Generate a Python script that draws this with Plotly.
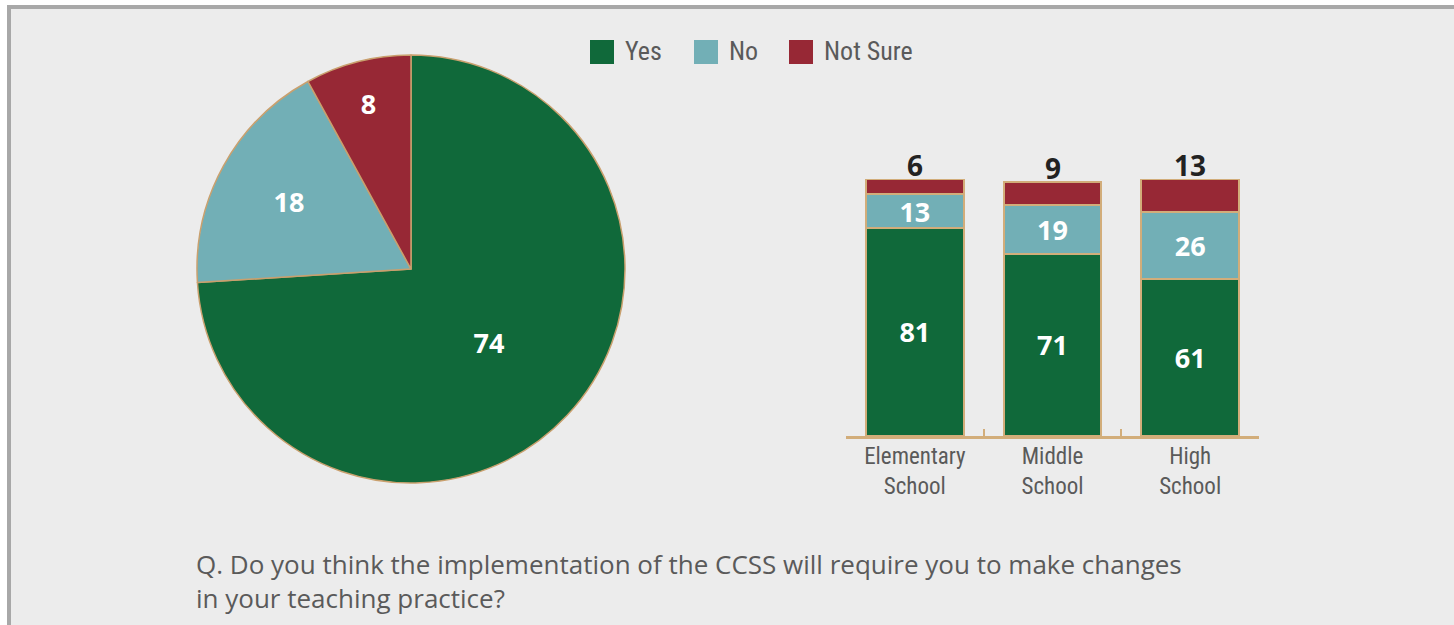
import plotly.graph_objects as go

# ---- data ----
series_names = ["Yes", "No", "Not Sure"]
series_colors = ["#10693a", "#72afb6", "#972835"]
overall_values = [74, 18, 8]

school_levels = ["Elementary<br>School", "Middle<br>School", "High<br>School"]
yes_values = [81, 71, 61]
no_values = [13, 19, 26]
not_sure_values = [6, 9, 13]

question = ("Q. Do you think the implementation of the CCSS will require you to make changes"
            "<br>in your teaching practice?")

W, H = 1454, 625
BG = "#ececec"
TAN = "#d2ad7a"
GRAY_TXT = "#5a5a5a"
FONT = "Open Sans, Liberation Sans, sans-serif"
NFONT = "Liberation Sans Narrow, Roboto Condensed, Roboto, sans-serif"

def px_x(x):
    return x / W

def px_y(y):
    return 1 - y / H

fig = go.Figure()

# pie
fig.add_trace(go.Pie(
    labels=series_names, values=overall_values, sort=False, direction="clockwise",
    rotation=0, marker=dict(colors=series_colors, line=dict(color="#c9a06e", width=1.5)),
    textinfo="value", textposition="inside", insidetextorientation="horizontal",
    textfont=dict(color="white", size=27, family=FONT, weight="bold"),
    domain=dict(x=[px_x(197), px_x(625)], y=[px_y(483), px_y(55)]),
    showlegend=False, hoverinfo="label+value",
))

# stacked bars
for name, color, vals, show_text in zip(series_names, series_colors,
                                         [yes_values, no_values, not_sure_values],
                                         [True, True, False]):
    fig.add_trace(go.Bar(
        x=school_levels, y=vals, name=name, marker=dict(color=color, line=dict(color=TAN, width=2)),
        text=[str(v) for v in vals] if show_text else None,
        textposition="inside", insidetextanchor="middle", constraintext="none", textangle=0,
        textfont=dict(color="white", size=27, family=FONT, weight="bold"),
        width=0.71, showlegend=False, xaxis="x", yaxis="y",
    ))

totals = [a + b + c for a, b, c in zip(yes_values, no_values, not_sure_values)]
annotations = []
for cat, tot, ns in zip(school_levels, totals, not_sure_values):
    annotations.append(dict(x=cat, y=tot, xref="x", yref="y", text=str(ns), showarrow=False,
                            yanchor="bottom", yshift=-7,
                            font=dict(color="#222222", size=28, family=FONT, weight="bold")))

# question text
annotations.append(dict(x=px_x(194), y=px_y(581), xref="paper", yref="paper",
                        text=question, showarrow=False, xanchor="left", yanchor="middle",
                        align="left",
                        font=dict(color=GRAY_TXT, size=26, family=FONT)))

# manual legend
shapes = []
leg_x = [590, 694, 789]
for name, color, lx in zip(series_names, series_colors, leg_x):
    shapes.append(dict(type="rect", xref="paper", yref="paper",
                       x0=px_x(lx), x1=px_x(lx + 24), y0=px_y(64), y1=px_y(40),
                       fillcolor=color, line=dict(width=0)))
    annotations.append(dict(x=px_x(lx + 33), y=px_y(51), xref="paper", yref="paper",
                            text=name, showarrow=False, xanchor="left", yanchor="middle",
                            font=dict(color=GRAY_TXT, size=26, family=NFONT)))

# background panel and border
shapes.insert(0, dict(type="rect", xref="paper", yref="paper", layer="below",
                      x0=px_x(9), x1=1.01, y0=-0.01, y1=px_y(7),
                      fillcolor=BG, line=dict(color="#a8a8a8", width=4)))

fig.update_layout(
    width=W, height=H, autosize=False,
    margin=dict(l=0, r=0, t=0, b=0),
    paper_bgcolor="white", plot_bgcolor="rgba(0,0,0,0)",
    barmode="stack", bargap=0.29,
    xaxis=dict(domain=[px_x(846), px_x(1259)], range=[-0.5, 2.5],
               showline=True, linecolor=TAN, linewidth=3,
               ticks="inside", tickson="boundaries", ticklen=7, tickcolor=TAN, tickwidth=2,
               tickfont=dict(color=GRAY_TXT, size=23, family=NFONT),
               ticklabelstandoff=-3,
               showgrid=False, zeroline=False, fixedrange=True),
    yaxis=dict(domain=[px_y(436), px_y(179)], range=[0, 100], visible=False,
               showgrid=False, zeroline=False, fixedrange=True),
    shapes=shapes, annotations=annotations,
    font=dict(family=FONT),
)

fig.write_html("out.html", config={"displayModeBar": False},
               post_script="document.body.style.margin='0px';")
